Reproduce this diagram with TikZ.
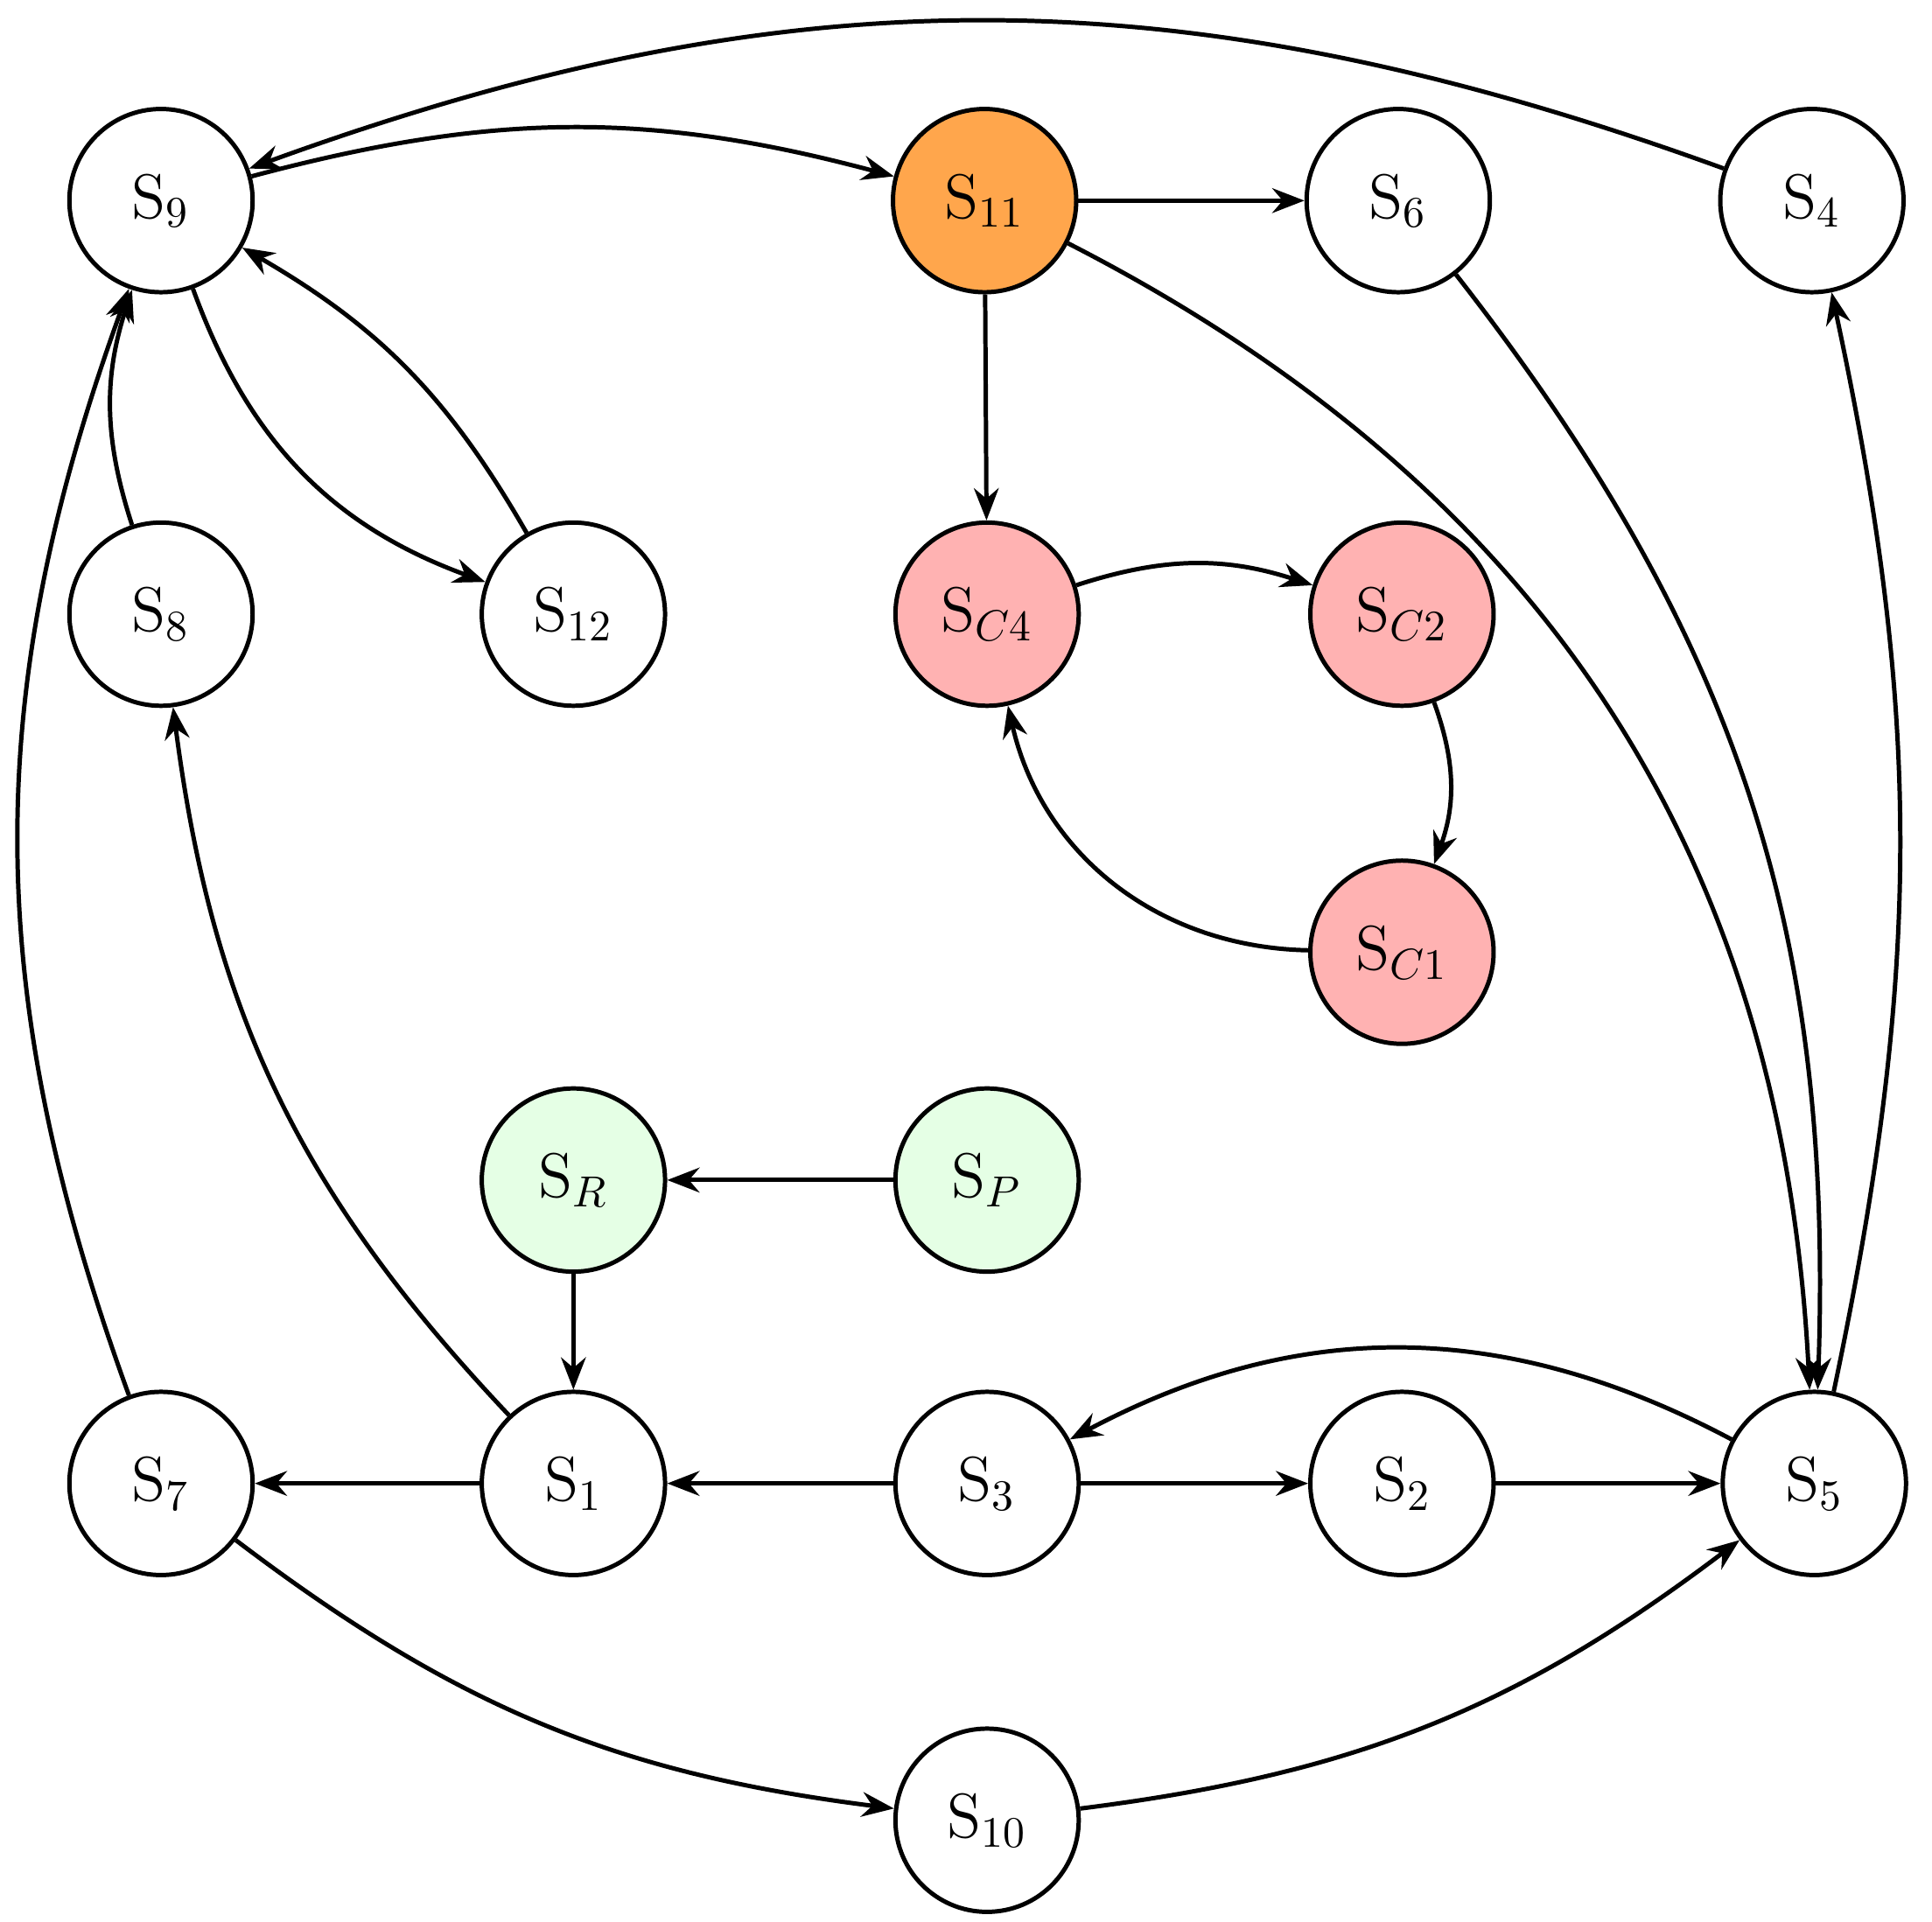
\documentclass[tikz,border=0pt]{standalone}
\usepackage{amsmath}
\usetikzlibrary{arrows,arrows.meta,positioning,calc}

\begin{document}
\begin{tikzpicture}[
        statesty/.style={
            draw, circle, line width=1pt,
            minimum size=1.48cm,
            inner sep=0pt,
            font=\Large,
            fill=white,
        },
        hotsty/.style={statesty, fill=orange!70},
        cyclesty/.style={statesty, fill=red!30},
        startsty/.style={statesty, fill=green!10},
        arrowsty/.style={-{Stealth[length=2.6mm,width=2mm]}, line width=1pt},
    ]
    \useasboundingbox (0,0) rectangle (15.6,-15.52);

    \node[statesty] at (1.30,-1.62) (s9) {S$_9$};
    \node[hotsty] at (7.95,-1.62) (s11) {S$_{11}$};
    \node[statesty] at (11.29,-1.62) (s6) {S$_6$};
    \node[statesty] at (14.63,-1.62) (s4) {S$_4$};

    \node[statesty] at (1.30,-4.96) (s8) {S$_8$};
    \node[statesty] at (4.63,-4.96) (s12) {S$_{12}$};
    \node[cyclesty] at (7.97,-4.96) (sc4) {S$_{C4}$};
    \node[cyclesty] at (11.32,-4.96) (sc2) {S$_{C2}$};
    \node[cyclesty] at (11.32,-7.69) (sc1) {S$_{C1}$};

    \node[startsty] at (4.63,-9.53) (sr) {S$_R$};
    \node[startsty] at (7.97,-9.53) (sp) {S$_P$};

    \node[statesty] at (1.30,-11.98) (s7) {S$_7$};
    \node[statesty] at (4.63,-11.98) (s1) {S$_1$};
    \node[statesty] at (7.97,-11.98) (s3) {S$_3$};
    \node[statesty] at (11.32,-11.98) (s2) {S$_2$};
    \node[statesty] at (14.65,-11.98) (s5) {S$_5$};
    \node[statesty] at (7.97,-14.70) (s10) {S$_{10}$};

    % straight ones
    \draw[arrowsty] (s11) -- (s6);
    \draw[arrowsty] (s11) -- (sc4);
    \draw[arrowsty] (sp) -- (sr);
    \draw[arrowsty] (sr) -- (s1);
    \draw[arrowsty] (s1) -- (s7);
    \draw[arrowsty] (s3) -- (s1);
    \draw[arrowsty] (s3) -- (s2);
    \draw[arrowsty] (s2) -- (s5);

    % curved ones
    \draw[arrowsty] (s9) to[bend left=15] (s11);
    \draw[arrowsty] (s4) to[bend right=20] (s9);
    \draw[arrowsty] (s9) to[bend right=25] (s12);
    \draw[arrowsty] (s12) to[bend right=15] (s9);
    \draw[arrowsty] (s8) to[bend left=18] (s9);
    \draw[arrowsty] (s7) to[bend left=20] (s9);
    \draw[arrowsty] (s1) to[bend left=18] (s8);
    \draw[arrowsty] (s7) to[bend right=15] (s10);
    \draw[arrowsty] (s10) to[bend right=15] (s5);
    \draw[arrowsty] (s5) to[bend right=28] (s3);
    \draw[arrowsty] (s11) to[bend left=30] (s5);
    \draw[arrowsty] (s6) to[bend left=20] (s5);
    \draw[arrowsty] (s5) to[bend right=12] (s4);
    \draw[arrowsty] (sc4) to[bend left=18] (sc2);
    \draw[arrowsty] (sc2) to[bend left=20] (sc1);
    \draw[arrowsty] (sc1) to[bend left=38] (sc4);
\end{tikzpicture}
\end{document}
